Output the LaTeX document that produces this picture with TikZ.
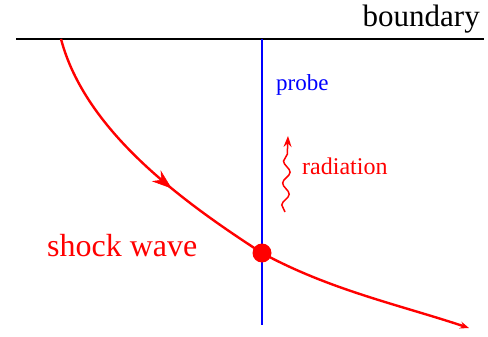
\documentclass[tikz,border=0pt]{standalone}
\usepackage{fontspec}
\setmainfont{Liberation Serif}
\usetikzlibrary{decorations.pathmorphing,decorations.markings,arrows.meta}
\begin{document}
\begin{tikzpicture}[x=1pt,y=-1pt,
  shock/.style={red, line width=2.4pt},
  lbl/.style={inner sep=0pt, anchor=base west}]
\useasboundingbox (0,0) rectangle (488,337);
\coordinate (bl) at (16,39);
\coordinate (br) at (484,39);
\coordinate (pt) at (262,39);
\coordinate (pb) at (262,325);
\coordinate (s0) at (61,39);
\coordinate (s2) at (469,328);
\coordinate (r0) at (285,212);
\coordinate (r1) at (288,136);
\draw[line width=2.4pt] (bl) -- (br);
\node[inner sep=0pt, anchor=base east, font=\fontsize{31}{32}\selectfont] (bnd) at (480,27) {boundary};
\draw[blue, line width=1.5pt] (pt) -- (pb);
\node[circle, fill=red, minimum size=19pt, inner sep=0pt] (dot) at (262,253) {};
\draw[shock, postaction={decorate}, decoration={markings, mark=at position 0.63 with {\arrow[line width=0.5pt]{Stealth[length=20pt,width=14pt]}}}]
  (s0) .. controls (85,130) and (180,200) .. (dot.center);
\draw[shock, -{Stealth[length=9pt,width=7pt]}] (dot.center) .. controls (330,290) and (400,305) .. (s2);
\draw[red, line width=1.5pt, -{Stealth[length=11pt,width=8pt]}, decorate, decoration={snake, amplitude=3.5pt, segment length=22pt, post length=12pt}] (r0) -- (r1);
\node[lbl, blue, font=\fontsize{23}{25}\selectfont] (probe) at (276,91) {probe};
\node[lbl, red, font=\fontsize{24}{26}\selectfont] (rad) at (302,175) {radiation};
\node[lbl, red, font=\fontsize{32}{34}\selectfont] (sw) at (47,256) {shock wave};
\end{tikzpicture}
\end{document}
